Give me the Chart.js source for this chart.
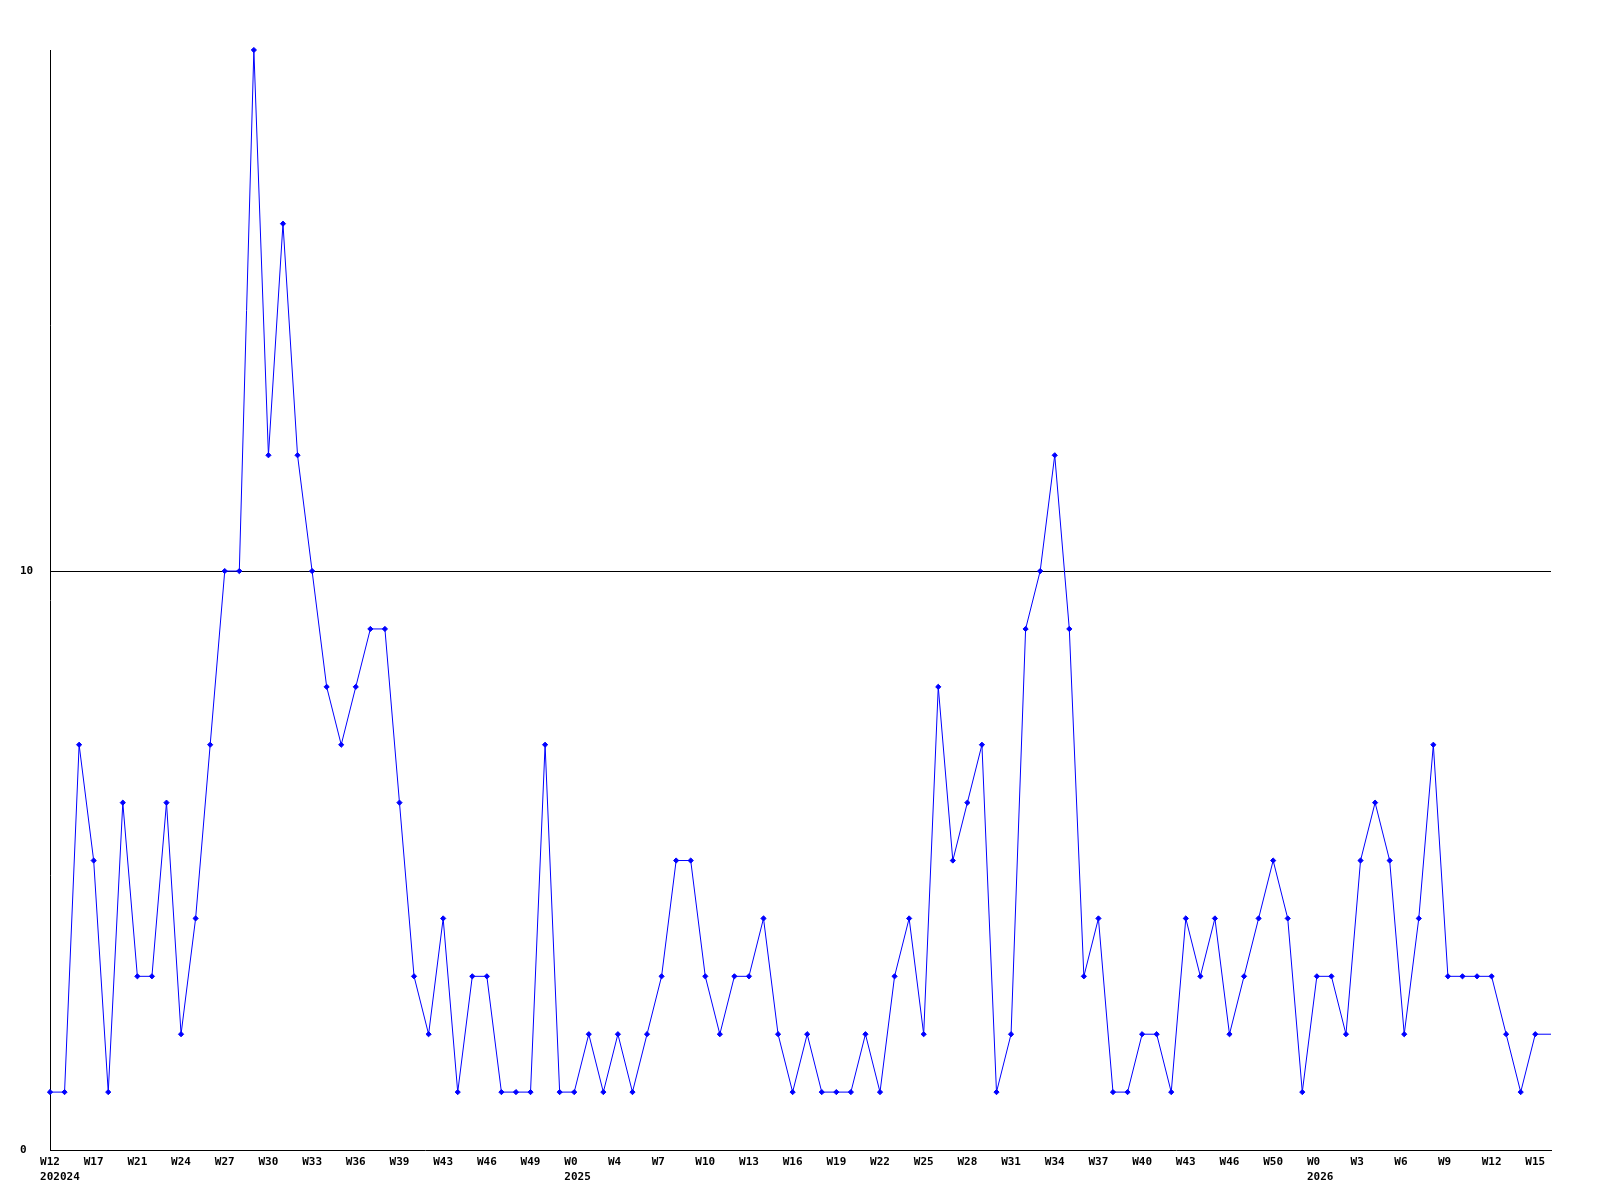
<!DOCTYPE html>
<html>
<head>
<meta charset="utf-8">
<script src="https://cdn.jsdelivr.net/npm/chart.js@4.4.1/dist/chart.umd.min.js"></script>
<style>
html,body{margin:0;padding:0;background:#fff;}
#wrap{width:1600px;height:1200px;position:relative;}
</style>
</head>
<body>
<div id="wrap"><canvas id="c" width="1600" height="1200"></canvas></div>
<script>
// Weekly values (103 weeks)
const weekValues = [
  1, 1, 7, 5, 1, 6, 3, 3, 6, 2, 4, 7, 10, 10, 19, 12, 16, 12, 10, 8,
  7, 8, 9, 9, 6, 3, 2, 4, 1, 3, 3, 1, 1, 1, 7, 1, 1, 2, 1, 2,
  1, 2, 3, 5, 5, 3, 2, 3, 3, 4, 2, 1, 2, 1, 1, 1, 2, 1, 3, 4,
  2, 8, 5, 6, 7, 1, 2, 9, 10, 12, 9, 3, 4, 1, 1, 2, 2, 1, 4, 3,
  4, 2, 3, 4, 5, 4, 1, 3, 3, 2, 5, 6, 5, 2, 4, 7, 3, 3, 3, 3,
  2, 1, 2
];

// X tick labels (one every 3 weeks)
const weekLabels = [
  "W12","W17","W21","W24","W27","W30","W33","W36","W39","W43","W46","W49",
  "W0","W4","W7","W10","W13","W16","W19","W22","W25","W28","W31","W34","W37","W40","W43","W46","W50",
  "W0","W3","W6","W9","W12","W15"
];
// Year captions under some week labels (keyed by label position in weekLabels)
const yearLabels = { 0: "202024", 12: "2025", 29: "2026" };

const yTicks = [0, 10];
const tickStep = 3;
const xMax = 103.08;
const yMax = 19;

const tickValues = weekLabels.map((_, i) => i * tickStep);

function padWeek(s) { while (s.length < 3) s += " "; return s; }
function labelFor(v) {
  const i = Math.round(v / tickStep);
  const w = weekLabels[i];
  if (w === undefined) return "";
  const wk = padWeek(w);
  const yr = yearLabels[i];
  if (yr) {
    const n = Math.max(0, yr.length - 3);
    return [wk, " ".repeat(n) + yr];
  }
  return wk;
}

const font = { family: "'DejaVu Sans Mono', 'Liberation Mono', monospace", size: 11, weight: 'bold', lineHeight: 1.32 };

const points = weekValues.map((v, i) => ({ x: i, y: v }));
points.push({ x: xMax, y: weekValues[weekValues.length - 1] });

new Chart(document.getElementById('c'), {
  type: 'line',
  data: {
    datasets: [{
      data: points,
      borderColor: '#0000ff',
      borderWidth: 1,
      pointStyle: 'rectRot',
      pointRadius: ctx => (ctx.dataIndex < weekValues.length ? 2.6 : 0),
      pointHoverRadius: 0,
      pointBackgroundColor: '#0000ff',
      pointBorderColor: '#0000ff',
      pointBorderWidth: 1,
      tension: 0,
      fill: false,
      clip: false
    }]
  },
  options: {
    responsive: false,
    animation: false,
    devicePixelRatio: 1,
    events: [],
    layout: { padding: { top: 50, right: 49, left: 20, bottom: 0 } },
    plugins: { legend: { display: false }, tooltip: { enabled: false } },
    scales: {
      x: {
        type: 'linear',
        min: 0,
        max: xMax,
        afterBuildTicks: s => { s.ticks = tickValues.map(v => ({ value: v })); },
        afterFit: s => { s.height = 50; },
        grid: { display: false, drawTicks: false },
        border: { display: true, color: '#000', width: 1 },
        ticks: {
          autoSkip: false, maxRotation: 0, minRotation: 0, padding: 5,
          color: '#000', font: font,
          callback: v => labelFor(v)
        }
      },
      y: {
        type: 'linear',
        min: 0,
        max: yMax,
        afterBuildTicks: s => { s.ticks = yTicks.map(v => ({ value: v })); },
        afterFit: s => { s.width = 30; },
        grid: {
          drawTicks: false,
          lineWidth: 1,
          color: ctx => (ctx.tick && ctx.tick.value === 10 ? '#000' : 'rgba(0,0,0,0)')
        },
        border: { display: true, color: '#000', width: 1 },
        ticks: {
          crossAlign: 'far', padding: 0, color: '#000', font: font,
          callback: v => String(v)
        }
      }
    }
  }
});
</script>
</body>
</html>
